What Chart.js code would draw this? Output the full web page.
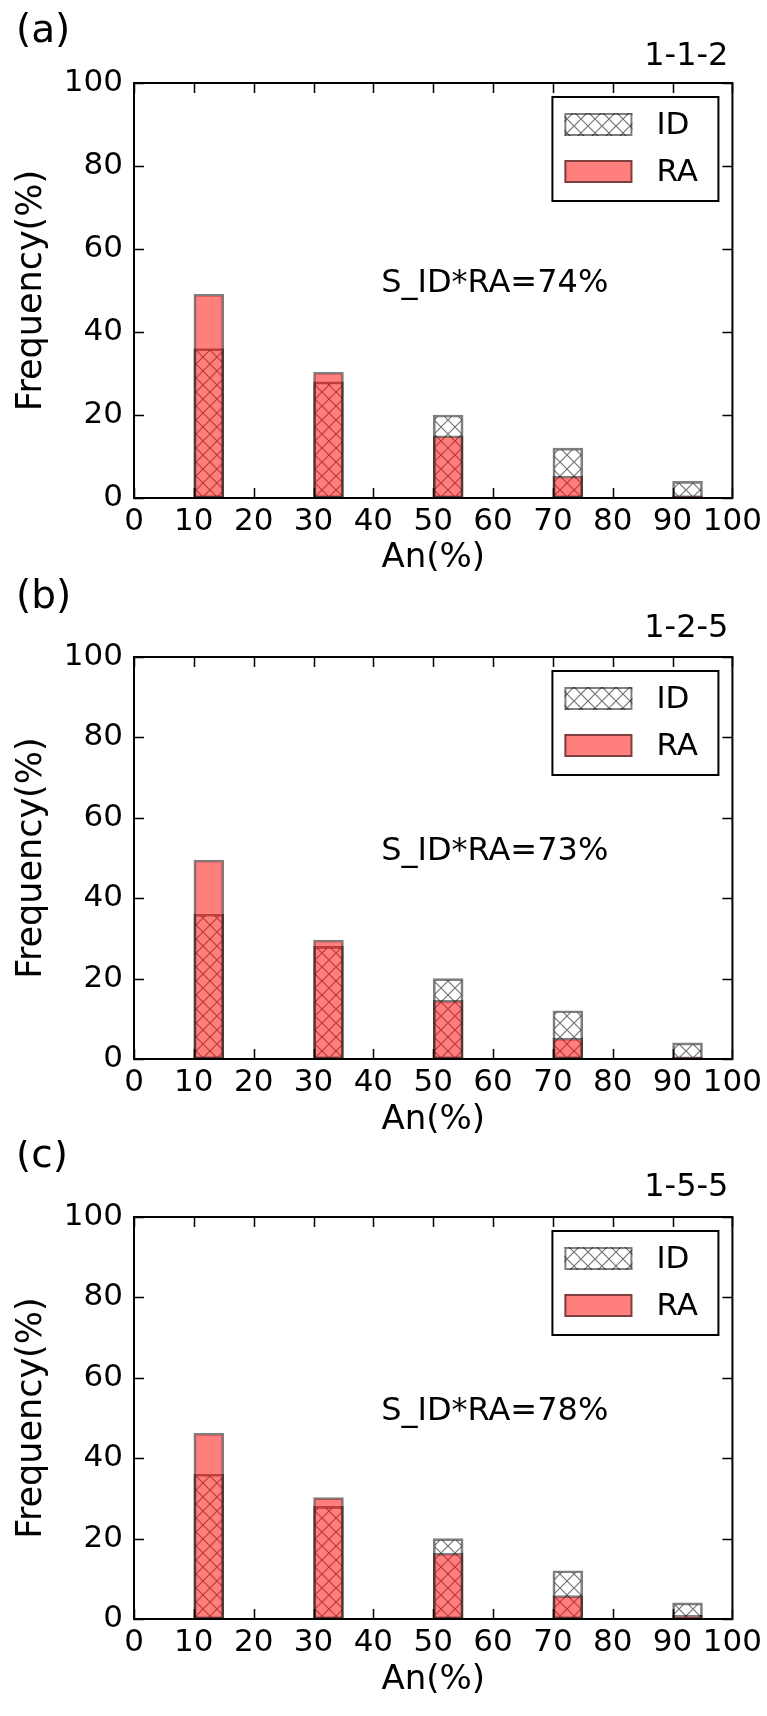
<!DOCTYPE html>
<html><head><meta charset="utf-8">
<script src="https://cdn.jsdelivr.net/npm/chart.js@4.4.1/dist/chart.umd.min.js"></script>
<style>
html,body{margin:0;padding:0;background:#fff;}
body{width:767px;height:1716px;position:relative;overflow:hidden;}
canvas{position:absolute;left:0;}
</style></head><body>
<canvas id="cA"></canvas><canvas id="cB"></canvas><canvas id="cC"></canvas>
<script>
// ---- data ----
const binLabels = ['0-5','5-10','10-15','15-20','20-25','25-30','30-35','35-40','40-45','45-50',
                   '50-55','55-60','60-65','65-70','70-75','75-80','80-85','85-90','90-95','95-100'];
const binStarts = [10, 30, 50, 70, 90];
const idFreq  = [36, 28, 20, 12, 4];
const raFreqA = [49.1, 30.3, 15.0, 5.3, 0.5];
const raFreqB = [49.5, 29.6, 14.6, 5.2, 0.4];
const raFreqC = [46.2, 30.2, 16.4, 5.8, 0.9];
const seriesNames = ['ID', 'RA'];
const panelTags = ['(a)', '(b)', '(c)'];
const panelCodes = ['1-1-2', '1-2-5', '1-5-5'];
const similarityText = ['S_ID*RA=74%', 'S_ID*RA=73%', 'S_ID*RA=78%'];
const xTickValues = [0, 10, 20, 30, 40, 50, 60, 70, 80, 90, 100];
const yTickValues = [0, 20, 40, 60, 80, 100];
const xTitle = 'An(%)';
const yTitle = 'Frequency(%)';

// ---- layout (page coordinates) ----
const FAMILY = "'DejaVu Sans', sans-serif";
const panels = [
  {id:'cA', top:0,    h:575, plotTop:83,   plotBottom:498,  tagBase:42,   codeBase:65,   xTitleC:558,  ra:raFreqA},
  {id:'cB', top:575,  h:565, plotTop:657,  plotBottom:1059, tagBase:608,  codeBase:637,  xTitleC:1120, ra:raFreqB},
  {id:'cC', top:1140, h:576, plotTop:1217, plotBottom:1619, tagBase:1167, codeBase:1196, xTitleC:1680, ra:raFreqC}
];
const PLOT_LEFT = 134, PLOT_RIGHT = 745, W = 767;

function toBins(vals) {
  return binLabels.map(lbl => {
    const i = binStarts.indexOf(parseFloat(lbl));
    return i >= 0 ? vals[i] : null;
  });
}

function makeHatch() {
  const s = 14;
  const c = document.createElement('canvas');
  c.width = s; c.height = s;
  const g = c.getContext('2d');
  g.strokeStyle = 'rgba(0,0,0,0.55)';
  g.lineWidth = 1.2;
  g.beginPath();
  g.moveTo(-1, -1); g.lineTo(s + 1, s + 1);
  g.moveTo(s + 1, -1); g.lineTo(-1, s + 1);
  g.stroke();
  return g.createPattern(c, 'repeat');
}
const hatch = makeHatch();

const framePlugin = {
  id: 'frame',
  afterDatasetsDraw(chart, args, opts) {
    const {ctx, chartArea: {left, right, top, bottom}, scales: {xt, y}} = chart;
    const p = opts.panel;
    ctx.save();
    // inward ticks on all four sides
    ctx.strokeStyle = '#000';
    ctx.lineWidth = 1.5;
    ctx.beginPath();
    xTickValues.forEach(v => {
      const px = Math.round(xt.getPixelForValue(v)) + 0.5;
      ctx.moveTo(px, bottom); ctx.lineTo(px, bottom - 10);
      ctx.moveTo(px, top); ctx.lineTo(px, top + 10);
    });
    yTickValues.forEach(v => {
      const py = Math.round(y.getPixelForValue(v)) + 0.5;
      ctx.moveTo(left, py); ctx.lineTo(left + 10, py);
      ctx.moveTo(right, py); ctx.lineTo(right - 10, py);
    });
    ctx.stroke();
    // frame
    ctx.lineWidth = 2;
    ctx.strokeRect(left, top, right - left, bottom - top);

    // legend box (inside, upper right)
    const bw = 166, bh = 104;
    const bx = right - 14 - bw, by = top + 14;
    ctx.fillStyle = '#fff';
    ctx.fillRect(bx, by, bw, bh);
    ctx.lineWidth = 2;
    ctx.strokeStyle = '#000';
    ctx.strokeRect(bx, by, bw, bh);
    chart.data.datasets.forEach((ds, i) => {
      const sx = bx + 12, sy = by + 16 + i * 47, sw = 68, sh = 23;
      ctx.fillStyle = ds.backgroundColor;
      ctx.fillRect(sx, sy, sw, sh);
      ctx.strokeStyle = ds.borderColor;
      ctx.lineWidth = 2;
      ctx.strokeRect(sx + 1, sy + 1, sw - 2, sh - 2);
      ctx.fillStyle = '#000';
      ctx.font = '31px ' + FAMILY;
      ctx.textAlign = 'left';
      ctx.textBaseline = 'middle';
      ctx.fillText(ds.label, bx + 104, sy + sh / 2 + 1);
    });

    // annotation
    ctx.fillStyle = '#000';
    ctx.font = '32px ' + FAMILY;
    ctx.textAlign = 'left';
    ctx.textBaseline = 'alphabetic';
    ctx.fillText(p.sim, xt.getPixelForValue(41.3), y.getPixelForValue(49.6));

    // panel tag and code
    ctx.font = '39px ' + FAMILY;
    ctx.fillText(p.tag, 16, p.tagBase - p.top);
    ctx.font = '32px ' + FAMILY;
    ctx.textAlign = 'right';
    ctx.fillText(p.code, right - 4, p.codeBase - p.top);
    ctx.restore();
  }
};

panels.forEach((p, k) => {
  p.tag = panelTags[k];
  p.code = panelCodes[k];
  p.sim = similarityText[k];
  const cv = document.getElementById(p.id);
  cv.width = W; cv.height = p.h;
  cv.style.top = p.top + 'px';
  cv.style.width = W + 'px'; cv.style.height = p.h + 'px';
  const plotTopL = p.plotTop - p.top;
  const plotBottomL = p.plotBottom - p.top;
  const xAxisH = p.h - plotBottomL;
  const xTitleSize = 34;
  const xTitlePad = p.h - (p.xTitleC - p.top) - xTitleSize / 2;

  new Chart(cv, {
    type: 'bar',
    data: {
      labels: binLabels,
      datasets: [
        {label: seriesNames[0], data: toBins(idFreq), backgroundColor: hatch,
         borderColor: 'rgba(0,0,0,0.5)', borderWidth: 2, borderSkipped: false,
         grouped: false, order: 1, categoryPercentage: 1, barPercentage: 1},
        {label: seriesNames[1], data: toBins(p.ra), backgroundColor: 'rgba(255,0,0,0.5)',
         borderColor: 'rgba(0,0,0,0.5)', borderWidth: 2, borderSkipped: false,
         grouped: false, order: 0, categoryPercentage: 1, barPercentage: 1}
      ]
    },
    options: {
      responsive: false, animation: false, devicePixelRatio: 1,
      layout: {padding: {top: plotTopL, right: W - PLOT_RIGHT, bottom: 0, left: 0}},
      plugins: {legend: {display: false}, tooltip: {enabled: false}, frame: {panel: p}},
      scales: {
        x: {type: 'category', display: false, offset: true},
        xt: {
          type: 'linear', position: 'bottom', min: 0, max: 100, offset: false,
          afterBuildTicks: s => { s.ticks = xTickValues.map(v => ({value: v})); },
          ticks: {font: {family: FAMILY, size: 31}, color: '#000', padding: 5, maxRotation: 0, autoSkip: false},
          grid: {display: false, drawTicks: false, offset: false},
          border: {display: false},
          title: {display: true, text: xTitle, color: '#000',
                  font: {family: FAMILY, size: xTitleSize, lineHeight: 1},
                  padding: {top: 0, bottom: xTitlePad}},
          afterFit: s => { s.height = xAxisH; }
        },
        y: {
          type: 'linear', min: 0, max: 100,
          afterBuildTicks: s => { s.ticks = yTickValues.map(v => ({value: v})); },
          ticks: {font: {family: FAMILY, size: 31}, color: '#000', padding: 11},
          grid: {display: false, drawTicks: false},
          border: {display: false},
          title: {display: true, text: yTitle, color: '#000',
                  font: {family: FAMILY, size: 35, lineHeight: 1},
                  padding: {top: 14, bottom: 0}},
          afterFit: s => { s.width = PLOT_LEFT; }
        }
      }
    },
    plugins: [framePlugin]
  });
});
</script>
</body></html>
